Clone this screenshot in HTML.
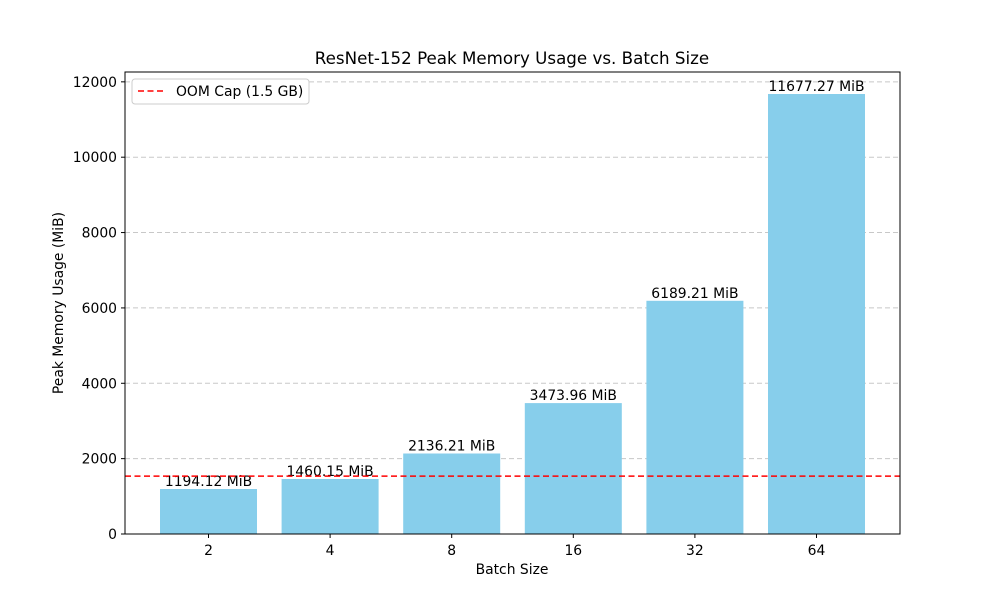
<!DOCTYPE html>
<html><head><meta charset="utf-8"><style>
body{margin:0;background:#fff;font-family:"Liberation Sans","DejaVu Sans",sans-serif;}
svg text{font-family:"DejaVu Sans","Liberation Sans",sans-serif;}
</style></head><body>
<svg id="chart" width="1000" height="600" xmlns="http://www.w3.org/2000/svg">
<rect width="1000" height="600" fill="#fff"/>
<text x="512" y="64" font-size="16.7" text-anchor="middle">ResNet-152 Peak Memory Usage vs. Batch Size</text>
<g id="grid"></g><g id="bars"></g><g id="labels"></g>
<line id="oom" x1="125" x2="900" stroke="#ff0000" stroke-width="1.5" stroke-dasharray="6,3.5"/>
<rect x="125" y="72" width="775" height="462" fill="none" stroke="#000" stroke-width="1"/>
<g id="ticks"></g>
<text x="512" y="574" font-size="13.9" text-anchor="middle">Batch Size</text>
<text transform="translate(63,303) rotate(-90)" font-size="13.9" text-anchor="middle">Peak Memory Usage (MiB)</text>
<g>
<rect x="132" y="79" width="177" height="25" rx="3" fill="#fff" stroke="#ccc"/>
<line x1="138" x2="166" y1="91" y2="91" stroke="#ff0000" stroke-width="1.5" stroke-dasharray="6,3.5"/>
<text x="176" y="96" font-size="13.9">OOM Cap (1.5 GB)</text>
</g>
</svg>
<script>
const categories=["2","4","8","16","32","64"];
const values=[1194.12,1460.15,2136.21,3473.96,6189.21,11677.27];
const yTicks=[0,2000,4000,6000,8000,10000,12000];
const oomCap=1536;
const NS="http://www.w3.org/2000/svg";
const yMax=Math.max(...values)*1.05;
const y=v=>534-v/yMax*462;
const x=i=>208.5+121.6*i;
const bw=97;
function mk(tag,attrs,parent){const e=document.createElementNS(NS,tag);for(const k in attrs)e.setAttribute(k,attrs[k]);document.getElementById(parent).appendChild(e);return e;}
yTicks.forEach(t=>{
  const g=mk('line',{x1:125,x2:900,y1:y(t),y2:y(t),stroke:'#c8c8c8','stroke-dasharray':'5,3'},'grid');
  
  
  const tk=mk('line',{x1:121,x2:125,y1:y(t),y2:y(t),stroke:'#000'},'ticks');
  
  
  const tl=mk('text',{x:117,y:y(t)+5,'font-size':13.9,'text-anchor':'end'},'ticks');
  tl.textContent=t;
  
  
});
values.forEach((v,i)=>{
  const b=mk('rect',{x:x(i)-bw/2,y:y(v),width:bw,height:534-y(v),fill:'#87ceeb'},'bars');
  
  
  const l=mk('text',{x:x(i),y:y(v)-3,'font-size':13.9,'text-anchor':'middle'},'labels');
  l.textContent=v.toFixed(2)+' MiB';
  
  
  const tk=mk('line',{x1:x(i),x2:x(i),y1:534,y2:538,stroke:'#000'},'ticks');
  
  
  const tl=mk('text',{x:x(i),y:555,'font-size':13.9,'text-anchor':'middle'},'ticks');
  tl.textContent=categories[i];
  
  
});
const o=document.getElementById('oom');o.setAttribute('y1',y(oomCap));o.setAttribute('y2',y(oomCap));
</script>
</body></html>
